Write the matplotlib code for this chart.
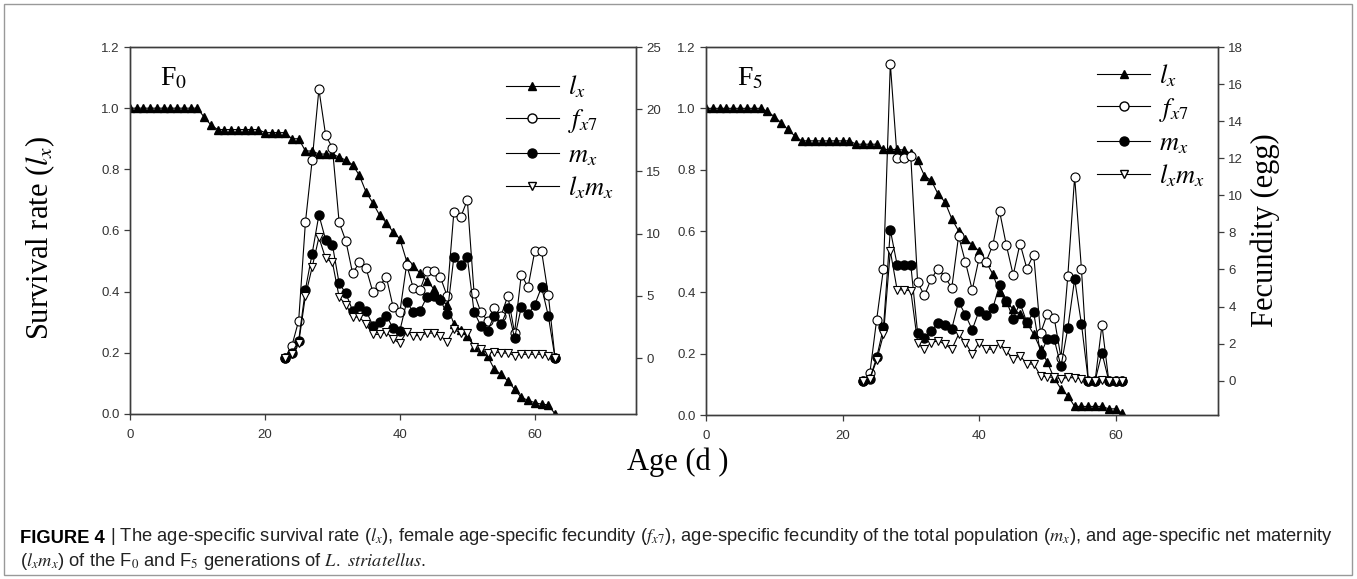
import numpy as np
from matplotlib import pyplot as plt
from matplotlib.lines import Line2D
from matplotlib.patches import Rectangle

plt.rcParams['mathtext.fontset'] = 'stix'
SERIF = ['Liberation Serif', 'DejaVu Serif']
SANS = ['Liberation Sans', 'DejaVu Sans']
AXC = '#3c3c3c'

# ---- F0 generation ----
f0_age_lx = list(range(0, 64))
f0_lx = [1.0, 1.0, 1.0, 1.0, 1.0, 1.0, 1.0, 1.0, 1.0, 1.0, 1.0,
         0.97, 0.945,
         0.93, 0.93, 0.93, 0.93, 0.93, 0.93, 0.93,
         0.92, 0.92, 0.92, 0.92, 0.90, 0.90,
         0.86, 0.86, 0.85, 0.85, 0.85, 0.84, 0.83, 0.815, 0.78, 0.725,
         0.69, 0.65, 0.625, 0.595, 0.573, 0.50, 0.485, 0.46, 0.435, 0.41,
         0.38, 0.355, 0.295, 0.275, 0.255, 0.22, 0.205, 0.19, 0.146, 0.13,
         0.108, 0.081, 0.054, 0.045, 0.037, 0.032, 0.03, 0.0]
f0_age_f = list(range(23, 64))
f0_fx7 = [0.0, 1.0, 3.0, 10.9, 15.9, 21.6, 17.9, 16.9, 10.9, 9.4,
          6.8, 7.7, 7.2, 5.3, 5.8, 6.5, 4.1, 3.7, 7.5, 5.6,
          5.5, 7.0, 7.0, 6.5, 5.0, 11.7, 11.3, 12.7, 5.2, 3.7,
          3.0, 4.0, 3.4, 5.0, 2.05, 6.7, 5.7, 8.6, 8.6, 5.1, 0.0]
f0_mx = [0.0, 0.4, 1.4, 5.5, 8.4, 11.5, 9.5, 9.1, 6.0, 5.2,
         3.8, 4.2, 3.8, 2.6, 2.9, 3.4, 2.4, 2.2, 4.5, 3.7,
         3.8, 4.9, 5.0, 4.7, 3.5, 8.1, 7.5, 8.1, 3.7, 2.6,
         2.2, 3.4, 2.7, 4.0, 1.6, 4.1, 3.5, 4.3, 5.7, 3.4, 0.0]
f0_lxmx = [0.0, 0.3, 1.2, 5.0, 7.3, 9.7, 8.0, 7.7, 4.9, 4.3,
           3.3, 3.3, 2.7, 1.9, 1.9, 2.1, 1.5, 1.2, 2.1, 1.8,
           1.8, 2.0, 2.0, 1.8, 1.3, 2.3, 2.0, 2.0, 0.9, 0.7,
           0.4, 0.5, 0.4, 0.4, 0.2, 0.3, 0.3, 0.3, 0.3, 0.2, 0.0]

# ---- F5 generation ----
f5_age_lx = list(range(0, 62))
f5_lx = [1.0, 1.0, 1.0, 1.0, 1.0, 1.0, 1.0, 1.0, 1.0,
         0.99, 0.973, 0.953, 0.931, 0.91,
         0.894, 0.894, 0.894, 0.894, 0.894, 0.894, 0.894, 0.894,
         0.883, 0.883, 0.883, 0.883, 0.866, 0.866, 0.866,
         0.864, 0.853, 0.83, 0.78, 0.765, 0.72, 0.695, 0.64, 0.60, 0.575,
         0.555, 0.535, 0.50, 0.46, 0.40, 0.37, 0.345, 0.33, 0.30, 0.264,
         0.215, 0.172, 0.12, 0.085, 0.063, 0.028, 0.028, 0.028, 0.028, 0.028,
         0.02, 0.02, 0.005]
f5_age_f = list(range(23, 62))
f5_fx7 = [0.0, 0.4, 3.3, 6.05, 17.1, 12.0, 12.0, 12.1, 5.3, 4.6,
          5.5, 6.05, 5.6, 5.0, 7.8, 6.4, 4.9, 6.6, 6.4, 7.3,
          9.15, 7.3, 5.7, 7.4, 6.05, 6.8, 2.56, 3.6, 3.4, 1.24,
          5.65, 11.0, 6.0, 0.0, 0.0, 3.0, 0.0, 0.0, 0.0]
f5_mx = [0.0, 0.1, 1.26, 2.87, 8.13, 6.25, 6.25, 6.25, 2.57, 2.28,
         2.7, 3.1, 3.0, 2.8, 4.26, 3.55, 2.75, 3.77, 3.55, 3.9,
         5.15, 4.3, 3.35, 4.2, 3.14, 3.68, 1.44, 2.24, 2.24, 0.77,
         2.84, 5.48, 3.05, 0.0, 0.0, 1.5, 0.0, 0.0, 0.0]
f5_lxmx = [0.0, 0.1, 1.1, 2.5, 7.0, 4.9, 4.9, 4.85, 2.06, 1.7,
           2.06, 2.15, 1.97, 1.7, 2.5, 2.06, 1.43, 2.06, 1.7, 1.7,
           2.0, 1.6, 1.17, 1.35, 0.9, 0.9, 0.27, 0.2, 0.18, 0.1,
           0.18, 0.15, 0.1, 0.0, 0.0, 0.05, 0.0, 0.0, 0.0]

legend_labels = ['$l_x$', '$f_{x7}$', '$m_x$', '$l_xm_x$']


def style_axis(a):
    for s in a.spines.values():
        s.set_color(AXC)
        s.set_linewidth(1.0)
    a.tick_params(direction='out', length=4, width=0.9, color=AXC,
                  labelsize=9.5, labelcolor='#333333')
    for t in a.get_xticklabels() + a.get_yticklabels():
        t.set_family(SANS)


def draw_panel(rect, age_l, lx, age_f, fx7, mx, lxmx, tag, fmin, fmax, fstep, leg_xy):
    ax = fig.add_axes(rect)
    ax2 = ax.twinx()
    kw = dict(color='black', lw=0.8)
    ax.plot(age_l, lx, marker='^', ms=6, mfc='black', mec='black', **kw)
    ax2.plot(age_f, fx7, marker='o', ms=6.5, mfc='white', mec='black', mew=0.8, **kw)
    ax2.plot(age_f, mx, marker='o', ms=6.5, mfc='black', mec='black', **kw)
    ax2.plot(age_f, lxmx, marker='v', ms=6, mfc='white', mec='black', mew=0.8, **kw)

    ax.set_xlim(0, 75)
    ax.set_ylim(0, 1.2)
    ax.set_xticks([0, 20, 40, 60])
    ax.set_yticks(np.arange(0, 1.21, 0.2))
    ax.set_yticklabels(['%.1f' % v for v in np.arange(0, 1.21, 0.2)])
    ax2.set_ylim(fmin, fmax)
    ax2.set_yticks(np.arange(0, fmax + 0.1, fstep))
    style_axis(ax)
    style_axis(ax2)
    ax.tick_params(axis='x', pad=7)

    ax.text(0.06, 0.915, tag, transform=ax.transAxes, fontsize=20,
            family=SERIF, va='center')

    handles = [
        Line2D([], [], color='black', lw=0.8, marker='^', ms=6, mfc='black', mec='black'),
        Line2D([], [], color='black', lw=0.8, marker='o', ms=6.5, mfc='white', mec='black'),
        Line2D([], [], color='black', lw=0.8, marker='o', ms=6.5, mfc='black', mec='black'),
        Line2D([], [], color='black', lw=0.8, marker='v', ms=6, mfc='white', mec='black'),
    ]
    ax2.legend(handles, legend_labels, loc='upper left', bbox_to_anchor=leg_xy,
               frameon=False, fontsize=19, handlelength=2.0, handletextpad=0.35,
               labelspacing=0.25, borderpad=0, borderaxespad=0, numpoints=1)
    return ax, ax2


fig = plt.figure(figsize=(13.57, 5.79), dpi=100)

draw_panel([130 / 1357, 1 - 414 / 579, 506 / 1357, 367 / 579],
           f0_age_lx, f0_lx, f0_age_f, f0_fx7, f0_mx, f0_lxmx,
           'F$_0$', -4.5, 25, 5, (0.743, 0.926))
draw_panel([706 / 1357, 1 - 415 / 579, 512 / 1357, 368 / 579],
           f5_age_lx, f5_lx, f5_age_f, f5_fx7, f5_mx, f5_lxmx,
           'F$_5$', -1.85, 18, 2, (0.764, 0.958))

fig.text(40 / 1357, 1 - 238 / 579, 'Survival rate ($l_x$)', rotation=90,
         fontsize=22, family=SERIF, ha='center', va='center')
fig.text(1265 / 1357, 1 - 230 / 579, 'Fecundity (egg)', rotation=90,
         fontsize=22, family=SERIF, ha='center', va='center')
fig.text(678 / 1357, 1 - 462 / 579, 'Age (d )', fontsize=22, family=SERIF,
         ha='center', va='center')

# caption
cap = fig.add_axes([0, 0, 1, 1])
cap.axis('off')
cap.set_zorder(-1)
CAPF = ['Liberation Sans', 'DejaVu Sans']
t1 = cap.text(20 / 1357, 1 - 547 / 579, 'FIGURE 4', fontsize=13.2, family=CAPF,
              weight='bold', va='bottom', transform=fig.transFigure)
cap.annotate(' | The age-specific survival rate ($l_x$), female age-specific fecundity ($f_{x7}$), '
             'age-specific fecundity of the total population ($m_x$), and age-specific net maternity',
             xy=(1, 0), xycoords=t1, va='bottom', ha='left', fontsize=13.2, family=CAPF,
             color='#222222')
cap.text(20 / 1357, 1 - 572 / 579,
         '($l_xm_x$) of the F$_0$ and F$_5$ generations of $L.$ $striatellus$.',
         fontsize=13.2, family=CAPF, va='bottom', color='#222222',
         transform=fig.transFigure)

fig.add_artist(Rectangle((4 / 1357, 4 / 579), 1348 / 1357, 571 / 579,
                         transform=fig.transFigure, fill=False,
                         edgecolor='#999999', lw=1.0))

fig.savefig('out.png', dpi=100)
